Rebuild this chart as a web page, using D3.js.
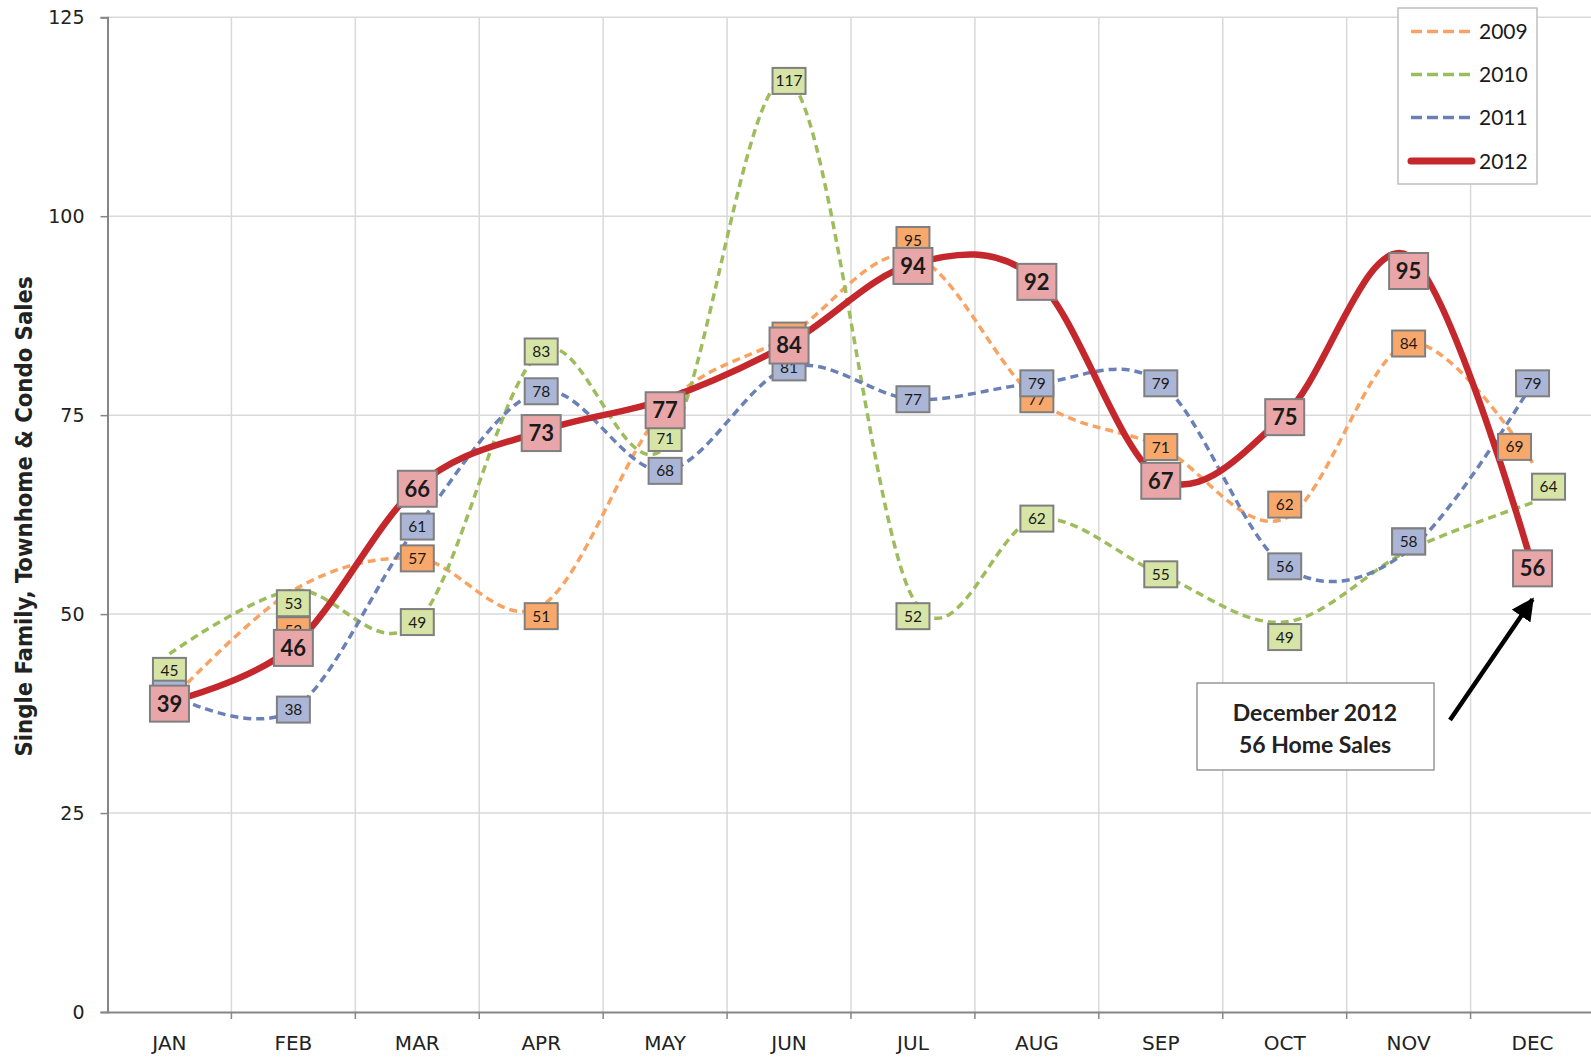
<!DOCTYPE html>
<html><head><meta charset="utf-8">
<script src="https://cdn.jsdelivr.net/npm/d3@7"></script>
<style>
html,body{margin:0;padding:0;background:#fff;}
svg{display:block;}
</style></head>
<body>
<svg id="chart" width="1591" height="1057"></svg>
<script>
// ---- data ----
const months = ["JAN","FEB","MAR","APR","MAY","JUN","JUL","AUG","SEP","OCT","NOV","DEC"];
const sales2009 = [39,53,57,51,76,85,95,77,71,62,84,69];
const sales2010 = [45,53,49,83,71,117,52,62,55,49,58,64];
const sales2011 = [40,38,61,78,68,81,77,79,79,56,58,79];
const sales2012 = [39,46,66,73,77,84,94,92,67,75,95,56];
const yTicks = [0,25,50,75,100,125];
const seriesNames = ["2009","2010","2011","2012"];
const yTitle = "Single Family, Townhome & Condo Sales";
const noteLines = ["December 2012","56 Home Sales"];

// ---- layout / style (label nudges in px, as hand-placed in original) ----
const nudge = {
  "2009": [[0,0],[0,40],[0,0],[0,10],[0,0],[0,0],[0,-16],[0,0],[0,0],[0,-14],[0,0],[-18,-16]],
  "2010": [[0,17],[0,13],[0,0],[0,0],[0,-9],[0,0],[0,18],[0,0],[0,0],[0,15],[0,-9],[16,-16]],
  "2011": [[0,0],[0,0],[0,0],[0,0],[0,0],[0,0],[0,0],[0,0],[0,0],[0,0],[0,-9],[0,0]],
  "2012": [[0,2],[0,2],[0,2],[0,2],[0,11],[0,2],[0,2],[0,2],[0,2],[0,2],[0,15],[0,2]]
};
const styles = {
  "2009": {line:"#f9a363", fill:"#f9a86c", w:3.5, dash:"8,5", big:false},
  "2010": {line:"#9dbd5c", fill:"#d6e4a5", w:3.5, dash:"8,5", big:false},
  "2011": {line:"#6a80b6", fill:"#abb6d6", w:3.5, dash:"8,5", big:false},
  "2012": {line:"#c4282c", fill:"#e8a6a8", w:6.5, dash:null, big:true}
};
const allData = {"2009":sales2009,"2010":sales2010,"2011":sales2011,"2012":sales2012};

const svg = d3.select("#chart");
const L = 107.5, R = 1594.5, T = 17.25, B = 1012;
const x = d3.scaleBand().domain(months).range([L,R]).padding(0);
const cx = m => x(m) + x.bandwidth()/2;
const y = d3.scaleLinear().domain([0,125]).range([B,T]);

// gridlines
const grid = svg.append("g");
grid.selectAll("line.h").data(yTicks.filter(t=>t>0)).join("line")
  .attr("x1",L).attr("x2",1591).attr("y1",d=>y(d)).attr("y2",d=>y(d))
  .attr("stroke","#d9d9d9").attr("stroke-width",1.5);
grid.selectAll("line.v").data(months.slice(1)).join("line")
  .attr("x1",d=>x(d)).attr("x2",d=>x(d)).attr("y1",T).attr("y2",B)
  .attr("stroke","#d9d9d9").attr("stroke-width",1.5);

// axes
const yAxis = d3.axisLeft(y).tickValues(yTicks).tickSize(7).tickPadding(16);
const gy = svg.append("g").attr("transform",`translate(${L},0)`).call(yAxis);
gy.select(".domain").attr("stroke","#868686").attr("stroke-width",2);
gy.selectAll(".tick line").attr("stroke","#868686").attr("stroke-width",1.5);
gy.selectAll(".tick text").attr("font-family","DejaVu Sans").attr("font-size",19).attr("fill","#222");

const xAxis = d3.axisBottom(x).tickSize(0).tickPadding(24);
const gx = svg.append("g").attr("transform",`translate(0,${B})`).call(xAxis);
gx.select(".domain").attr("stroke","#868686").attr("stroke-width",2);
gx.selectAll(".tick text").attr("font-family","DejaVu Sans").attr("font-size",20).attr("fill","#222");
gx.selectAll("line.bt").data(months.slice(1)).join("line").attr("class","bt")
  .attr("x1",d=>x(d)).attr("x2",d=>x(d)).attr("y1",0).attr("y2",7)
  .attr("stroke","#868686").attr("stroke-width",1.5);

// y title
svg.append("text")
  .attr("transform",`translate(32,${(275+758)/2}) rotate(-90)`)
  .attr("text-anchor","middle")
  .attr("font-family","'Liberation Sans Narrow','DejaVu Sans Condensed',Lato,sans-serif")
  .attr("font-weight","bold").attr("font-size",23).attr("fill","#222")
  .attr("textLength",480).attr("lengthAdjust","spacingAndGlyphs")
  .text(yTitle);

// lines
const lineGen = d3.line().x((d,i)=>cx(months[i])).y(d=>y(d)).curve(d3.curveCardinal.tension(0));
seriesNames.forEach(s=>{
  const st = styles[s];
  svg.append("path").datum(allData[s])
    .attr("d",lineGen).attr("fill","none")
    .attr("stroke",st.line).attr("stroke-width",st.w)
    .attr("stroke-dasharray",st.dash).attr("stroke-linecap", st.dash? "butt":"round");
});

// labels
["2009","2010","2011","2012"].forEach(s=>{
  const st = styles[s];
  const bw = st.big? 39: 33, bh = st.big? 36: 26;
  const g = svg.append("g");
  allData[s].forEach((v,i)=>{
    const [dx,dy] = nudge[s][i];
    const px = cx(months[i]) + dx, py = y(v) + dy;
    g.append("rect").attr("x",px-bw/2).attr("y",py-bh/2).attr("width",bw).attr("height",bh)
      .attr("fill",st.fill).attr("stroke","#7f7f7f").attr("stroke-width",2);
    g.append("text").attr("x",px).attr("y",py).attr("dy","0.36em")
      .attr("text-anchor","middle").attr("font-family","Lato,sans-serif")
      .attr("font-weight",st.big?"bold":"normal").attr("font-size",st.big?22:15.5)
      .attr("fill","#1a1a1a").text(v);
  });
});

// legend
const lg = svg.append("g");
lg.append("rect").attr("x",1398).attr("y",8).attr("width",139).attr("height",176)
  .attr("fill","#fff").attr("stroke","#bfbfbf").attr("stroke-width",1.5);
const legY = [31.5,74.5,117.5,161];
seriesNames.forEach((s,i)=>{
  const st = styles[s];
  lg.append("line").attr("x1",1411).attr("x2",1472).attr("y1",legY[i]).attr("y2",legY[i])
    .attr("stroke",st.line).attr("stroke-width",st.big?7:3.5)
    .attr("stroke-dasharray",st.dash? "11,5": null).attr("stroke-linecap",st.big?"round":"butt");
  lg.append("text").attr("x",1479).attr("y",legY[i]).attr("dy","0.36em")
    .attr("font-family","Lato,sans-serif").attr("font-size",21).attr("fill","#1a1a1a").text(s);
});

// annotation
svg.append("defs").append("marker").attr("id","arr").attr("viewBox","0 0 10 10")
  .attr("refX",9).attr("refY",5).attr("markerWidth",5).attr("markerHeight",5)
  .attr("orient","auto").append("path").attr("d","M0,0 L10,5 L0,10 z").attr("fill","#000");
const decX = cx("DEC"), decY = y(56);
svg.append("line").attr("x1",1450).attr("y1",720).attr("x2",decX).attr("y2",decY+33)
  .attr("stroke","#000").attr("stroke-width",4.5).attr("marker-end","url(#arr)");
svg.append("rect").attr("x",1197).attr("y",683).attr("width",237).attr("height",87)
  .attr("fill","#fff").attr("stroke","#7f7f7f").attr("stroke-width",1.2);
noteLines.forEach((t,i)=>{
  svg.append("text").attr("x",1315).attr("y",[713,745][i]).attr("dy","0.36em")
    .attr("text-anchor","middle").attr("font-family","Lato,sans-serif").attr("font-weight","bold")
    .attr("font-size",23).attr("fill","#222").text(t);
});
</script>
</body></html>
